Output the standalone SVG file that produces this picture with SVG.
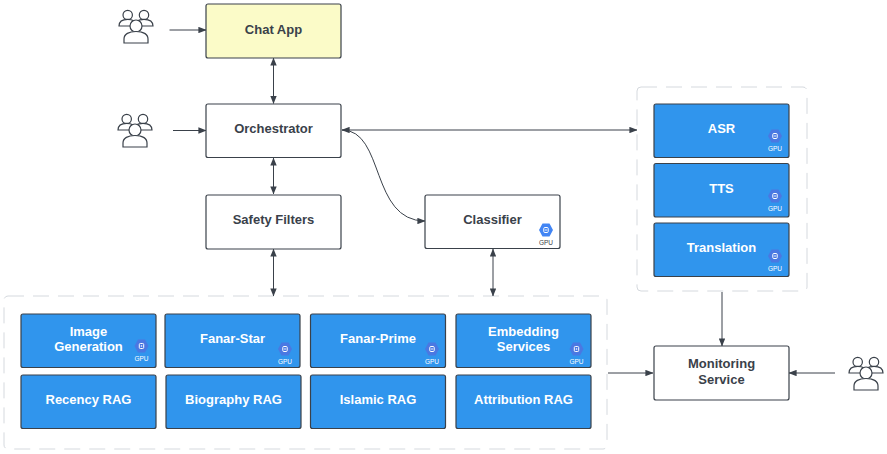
<svg xmlns="http://www.w3.org/2000/svg" width="887" height="454" viewBox="0 0 887 454">
<style>
text{font-family:"Liberation Sans",Arial,sans-serif;font-weight:700;text-anchor:middle}
.box{stroke:#3a414a;stroke-width:1.2}
.w{fill:#fff}.b{fill:#3095ed}.y{fill:#fbfbc8}
.t{font-size:13px;fill:#3a414a}.l{font-size:13px;fill:#fff}
.g{font-size:6.500px;font-weight:400}
.c{fill:none;stroke:#3a414a;stroke-width:1}
.d{fill:none;stroke:#d5d9de;stroke-width:1;stroke-dasharray:16 9}
.u{fill:#fff;stroke:#3a414a;stroke-width:1.2}
</style>
<defs>
<marker id="a" viewBox="0 0 10 8" refX="9.500" refY="4" markerWidth="8" markerHeight="6.400" orient="auto-start-reverse" markerUnits="userSpaceOnUse"><path d="M0 0L10 4L0 8Z" fill="#3a414a"/></marker>
<g id="users">
<circle cx="-8.300" cy="-11" r="4.700" class="u"/><path d="M-17 0C-17 -5-13-6.700-8.300-6.700S0-5 0 0Z" class="u"/>
<circle cx="8" cy="-11" r="4.700" class="u"/><path d="M-1 0C-1 -5 3-6.700 8-6.700S17-5 17 0Z" class="u"/>
<circle cx="0" cy="0" r="6" class="u"/><path d="M-12 17V13C-12 8-7 5.500 0 5.500S12 8 12 13V17Z" class="u"/>
</g>
<g id="gpub"><path d="M-7 0L-3.500-6.500H3.500L7 0L3.500 6.500H-3.500Z" fill="#4a78e2"/><rect x="-2.200" y="-2.500" width="4.400" height="5" rx="1" fill="none" stroke="#fff" stroke-width="1"/><circle r=".8" fill="#fff"/><text y="15" class="g" fill="#fff">GPU</text></g>
<g id="gpuw"><path d="M-7 0L-3.500-6.500H3.500L7 0L3.500 6.500H-3.500Z" fill="#4285f4"/><rect x="-2.200" y="-2.500" width="4.400" height="5" rx="1" fill="none" stroke="#fff" stroke-width="1"/><circle r=".8" fill="#fff"/><text y="15" class="g" fill="#3a414a">GPU</text></g>
</defs>
<g id="groups">
<rect x="4" y="296" width="603" height="153" rx="4" class="d"/>
<rect x="637" y="87" width="170" height="204" rx="4" class="d"/>
</g>
<g id="connectors">
<path class="c" marker-end="url(#a)" d="M169.500 30H206"/>
<path class="c" marker-end="url(#a)" d="M173 130.500H206"/>
<path class="c" marker-start="url(#a)" marker-end="url(#a)" d="M273.500 58V103.500"/>
<path class="c" marker-start="url(#a)" marker-end="url(#a)" d="M273.500 158V194"/>
<path class="c" marker-start="url(#a)" marker-end="url(#a)" d="M273.500 249V296"/>
<path class="c" marker-start="url(#a)" marker-end="url(#a)" d="M493 249V296"/>
<path class="c" marker-start="url(#a)" marker-end="url(#a)" d="M342 130H637"/>
<path class="c" marker-end="url(#a)" d="M342 130C385 130 370 221 425 221"/>
<path class="c" marker-end="url(#a)" d="M722 292V346"/>
<path class="c" marker-end="url(#a)" d="M608 373H653"/>
<path class="c" marker-end="url(#a)" d="M835 373H789"/>
</g>
<g id="user1"><use href="#users" x="136" y="26"/></g>
<g id="user2"><use href="#users" x="135" y="130"/></g>
<g id="user3"><use href="#users" x="866" y="373"/></g>
<g id="chat"><rect x="206" y="4" width="135" height="54" rx="2" class="box y"/><text x="273.500" y="33.500" class="t">Chat App</text></g>
<g id="orchestrator"><rect x="206" y="104" width="135" height="53.500" rx="2" class="box w"/><text x="273.500" y="133" class="t">Orchestrator</text></g>
<g id="safety"><rect x="206" y="195" width="135" height="54" rx="2" class="box w"/><text x="273.500" y="224" class="t">Safety Filters</text></g>
<g id="classifier"><rect x="425" y="195" width="135" height="53.500" rx="2" class="box w"/><text x="492.500" y="224" class="t">Classifier</text><use href="#gpuw" x="546" y="230"/></g>
<g id="monitoring"><rect x="654" y="346" width="135" height="54" rx="2" class="box w"/><text x="721.500" y="368" class="t">Monitoring</text><text x="721.500" y="384" class="t">Service</text></g>
<g id="asr"><rect x="654" y="104" width="135" height="53.500" rx="2" class="box b"/><text x="721.500" y="133" class="l">ASR</text><use href="#gpub" x="775" y="136"/></g>
<g id="tts"><rect x="654" y="163.500" width="135" height="53.500" rx="2" class="box b"/><text x="721.500" y="192.500" class="l">TTS</text><use href="#gpub" x="775" y="196"/></g>
<g id="translation"><rect x="654" y="223" width="135" height="53.500" rx="2" class="box b"/><text x="721.500" y="252" class="l">Translation</text><use href="#gpub" x="775" y="256"/></g>
<g id="image"><rect x="21" y="314" width="135" height="53.500" rx="2" class="box b"/><text x="88.500" y="335.500" class="l">Image</text><text x="88.500" y="351" class="l">Generation</text><use href="#gpub" x="141.500" y="346"/></g>
<g id="star"><rect x="165" y="314" width="135" height="53.500" rx="2" class="box b"/><text x="232.500" y="343" class="l">Fanar-Star</text><use href="#gpub" x="285" y="349"/></g>
<g id="prime"><rect x="310.500" y="314" width="135" height="53.500" rx="2" class="box b"/><text x="378" y="343" class="l">Fanar-Prime</text><use href="#gpub" x="432" y="349"/></g>
<g id="embedding"><rect x="456" y="314" width="135" height="53.500" rx="2" class="box b"/><text x="523.500" y="335.500" class="l">Embedding</text><text x="523.500" y="351" class="l">Services</text><use href="#gpub" x="576.500" y="349"/></g>
<g id="recency"><rect x="21" y="375" width="135" height="53.500" rx="2" class="box b"/><text x="88.500" y="404" class="l">Recency RAG</text></g>
<g id="biography"><rect x="166" y="375" width="135" height="53.500" rx="2" class="box b"/><text x="233.500" y="404" class="l">Biography RAG</text></g>
<g id="islamic"><rect x="310.500" y="375" width="135" height="53.500" rx="2" class="box b"/><text x="378" y="404" class="l">Islamic RAG</text></g>
<g id="attribution"><rect x="456" y="375" width="135" height="53.500" rx="2" class="box b"/><text x="523.500" y="404" class="l">Attribution RAG</text></g>
</svg>
